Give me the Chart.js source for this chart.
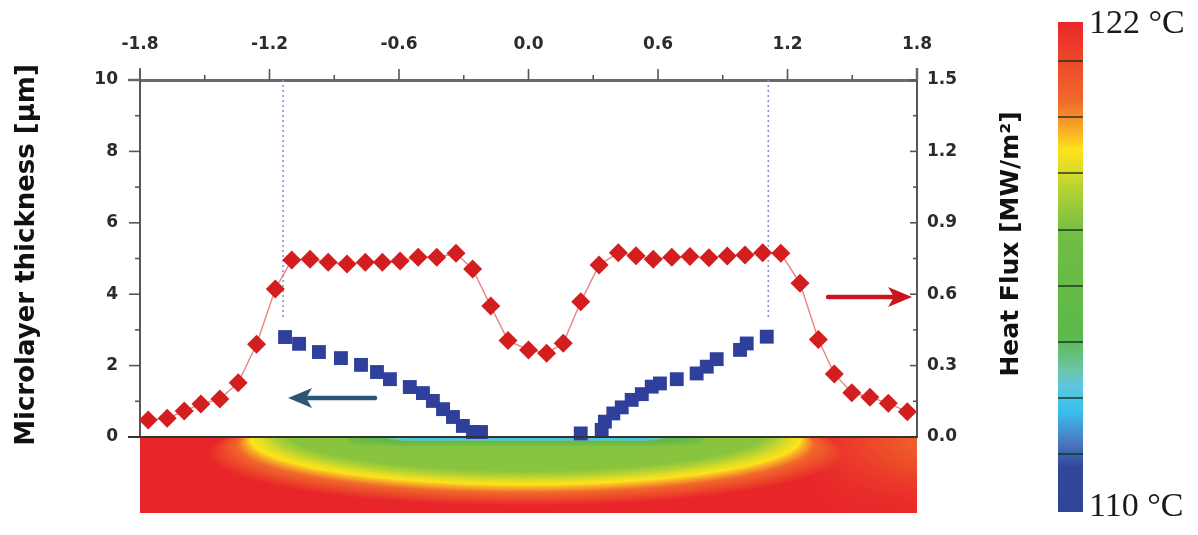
<!DOCTYPE html>
<html><head><meta charset="utf-8">
<script src="https://cdn.jsdelivr.net/npm/chart.js@4/dist/chart.umd.min.js"></script>
<style>html,body{margin:0;padding:0;background:#fff;}canvas{display:block}</style>
</head><body>
<canvas id="c" width="1198" height="535"></canvas>
<script>
// ---------- data ----------
const xTickLabels = ['-1.8','-1.2','-0.6','0.0','0.6','1.2','1.8'];
const leftTickLabels = ['0','2','4','6','8','10'];
const rightTickLabels = ['0.0','0.3','0.6','0.9','1.2','1.5'];

const fluxX = [-1.762,-1.674,-1.595,-1.518,-1.430,-1.345,-1.260,-1.173,-1.097,-1.012,-0.928,-0.841,-0.756,-0.677,-0.595,-0.511,-0.425,-0.336,-0.259,-0.175,-0.095,0.000,0.084,0.161,0.242,0.327,0.416,0.498,0.578,0.664,0.748,0.836,0.921,1.003,1.085,1.169,1.258,1.343,1.417,1.498,1.582,1.667,1.755];
const fluxY = [0.071,0.079,0.109,0.139,0.160,0.228,0.390,0.622,0.744,0.747,0.734,0.727,0.734,0.734,0.740,0.755,0.755,0.772,0.706,0.550,0.405,0.366,0.352,0.394,0.568,0.723,0.774,0.762,0.747,0.755,0.758,0.753,0.761,0.765,0.774,0.772,0.646,0.410,0.265,0.186,0.167,0.142,0.106];

const thickX = [-1.128,-1.063,-0.971,-0.869,-0.776,-0.702,-0.642,-0.550,-0.489,-0.443,-0.396,-0.350,-0.304,-0.257,-0.220,
                0.242,0.339,0.354,0.393,0.432,0.478,0.525,0.571,0.609,0.687,0.779,0.826,0.872,0.980,1.011,1.104];
const thickY = [2.80,2.61,2.38,2.21,2.02,1.82,1.62,1.40,1.23,1.01,0.78,0.56,0.31,0.14,0.14,
                0.10,0.20,0.43,0.66,0.83,1.04,1.20,1.41,1.50,1.62,1.78,1.97,2.18,2.44,2.62,2.81];

const guideX = [-1.137, 1.111];
const guideY = [10, 3.33];

const axisTitles = ['Microlayer thickness [μm]', 'Heat Flux [MW/m²]'];
const colorbarLabels = ['122 °C', '110 °C'];

// ---------- colormap (t: 0 = 110 °C, 1 = 122 °C) ----------
const cmapStops = [[0,'#2e4598'],[0.09,'#30479b'],[0.143,'#4a7ac0'],[0.205,'#38bfee'],[0.26,'#5dc8dc'],[0.29,'#6cc5a6'],[0.36,'#5cb84a'],[0.57,'#72bd44'],[0.66,'#b4d233'],[0.70,'#e0dc26'],[0.74,'#fde31a'],[0.76,'#fbc521'],[0.80,'#f6952a'],[0.84,'#f0682a'],[0.915,'#ed4a2a'],[1,'#e8262a']];
function hex(c){return [parseInt(c.substr(1,2),16),parseInt(c.substr(3,2),16),parseInt(c.substr(5,2),16)];}
const cmapRGB = cmapStops.map(s=>[s[0],hex(s[1])]);
function cmap(t){
  t=Math.max(0,Math.min(1,t));
  for(let i=1;i<cmapRGB.length;i++){
    if(t<=cmapRGB[i][0]){
      const a=cmapRGB[i-1], b=cmapRGB[i]; const f=(t-a[0])/(b[0]-a[0]);
      return [0,1,2].map(k=>Math.round(a[1][k]+(b[1][k]-a[1][k])*f));
    }
  }
  return cmapRGB[cmapRGB.length-1][1];
}
function fieldT(px,v,cx,a,b,right){
  const u=(px-cx)/a, w=v/b;
  const d=Math.sqrt(u*u+w*w)+1e-9;
  const s=Math.abs(w)/d;              // 0 at the surface edges, 1 straight below the centre
  const inW=0.14+0.16*s, outW=0.10+0.35*s, yd=0.98;
  let t;
  if(d<yd-inW) t=0.6;
  else if(d<yd) t=0.6+0.14*(d-(yd-inW))/inW;
  else if(d<yd+outW) t=0.74+0.26*(d-yd)/outW;
  else t=1;
  // thin cool layer at the surface
  const c=Math.exp(-Math.pow(v/4,2))*Math.max(0,Math.min(1,1-(Math.abs(px-cx)-120)/60));
  t=t*(1-c)+0.22*c;
  // orange tint on the right side
  const r=Math.max(0,Math.min(1,(px-(right-110))/110))*Math.exp(-Math.pow(v/45,2));
  if(t>0.86) t=Math.max(0.86,t-0.14*r);
  return t;
}

// ---------- plugin for the extra drawings ----------
const extras = {
  id:'extras',
  beforeDatasetsDraw(chart){
    const {ctx, chartArea:ca, scales} = chart;
    const xs=scales.x;
    const left=Math.round(ca.left), right=Math.round(ca.right);
    const top=Math.round(ca.bottom)+1, h=75, w=right-left;
    const off=document.createElement('canvas'); off.width=w; off.height=h;
    const octx=off.getContext('2d'); const img=octx.createImageData(w,h);
    const cx=xs.getPixelForValue(-0.015)-left;
    const a=xs.getPixelForValue(1.30)-xs.getPixelForValue(0);
    for(let y=0;y<h;y++){for(let x=0;x<w;x++){
      const col=cmap(fieldT(x,y,cx,a,47,w));
      const i=(y*w+x)*4; img.data[i]=col[0];img.data[i+1]=col[1];img.data[i+2]=col[2];img.data[i+3]=255;
    }}
    octx.putImageData(img,0,0);
    ctx.drawImage(off,left,top);
  },
  afterDraw(chart){
    const {ctx, chartArea:ca, scales} = chart;
    const xs=scales.x, yl=scales.y, yr=scales.y2;
    ctx.save();
    // tick marks
    ctx.strokeStyle='#555'; ctx.lineWidth=1.6;
    const line=(x1,y1,x2,y2)=>{ctx.beginPath();ctx.moveTo(x1,y1);ctx.lineTo(x2,y2);ctx.stroke();};
    for(let i=0;i<=12;i++){const v=-1.8+i*0.3; const p=xs.getPixelForValue(v); line(p,ca.top,p,ca.top-(i%2===0?11:5));}
    for(let i=0;i<=10;i++){const p=yl.getPixelForValue(i); line(ca.left,p,ca.left-(i%2===0?11:5),p);}
    for(let i=0;i<=10;i++){const p=yr.getPixelForValue(i*0.15); line(ca.right,p,ca.right-(i%2===0?7:4),p);}
    // axis extensions and bottom frame
    line(ca.left,ca.top-12,ca.left,ca.top);
    ctx.strokeStyle='#333'; ctx.lineWidth=2;
    line(ca.left-12,ca.bottom,ca.right,ca.bottom);
    ctx.strokeStyle='#666'; ctx.lineWidth=2.5;
    line(ca.left-12,ca.top,ca.left,ca.top);
    line(ca.right,ca.top-12,ca.right,ca.top);
    // arrows
    const arrow=(x1,y1,x2,y2,color)=>{
      const dir=Math.sign(x2-x1);
      ctx.strokeStyle=color; ctx.fillStyle=color; ctx.lineWidth=4.5; ctx.lineCap='round';
      line(x1,y1,x2-dir*18,y2);
      ctx.beginPath(); ctx.moveTo(x2,y2); ctx.lineTo(x2-dir*24,y2-10); ctx.lineTo(x2-dir*18,y2); ctx.lineTo(x2-dir*24,y2+10); ctx.closePath(); ctx.fill();
    };
    arrow(xs.getPixelForValue(-0.711),yl.getPixelForValue(1.09),xs.getPixelForValue(-1.114),yl.getPixelForValue(1.09),'#2b5676');
    arrow(xs.getPixelForValue(1.388),yr.getPixelForValue(0.588),xs.getPixelForValue(1.777),yr.getPixelForValue(0.588),'#c8161c');
    // axis titles
    ctx.fillStyle='#111'; ctx.textAlign='center'; ctx.textBaseline='middle';
    ctx.save(); ctx.translate(27,255); ctx.rotate(-Math.PI/2); ctx.font='bold 26px "DejaVu Sans"'; ctx.fillText(axisTitles[0],0,0); ctx.restore();
    ctx.save(); ctx.translate(1011,244); ctx.rotate(-Math.PI/2); ctx.font='bold 25px "DejaVu Sans"'; ctx.fillText(axisTitles[1],0,0); ctx.restore();
    // colorbar
    const bx=1058, bw=25, by=22, bb=512;
    const g=ctx.createLinearGradient(0,bb,0,by);
    cmapStops.forEach(s=>g.addColorStop(s[0],s[1]));
    ctx.fillStyle=g; ctx.fillRect(bx,by,bw,bb-by);
    ctx.strokeStyle='rgba(20,50,30,0.7)'; ctx.lineWidth=2; ctx.lineCap='butt';
    [61,117,173,230,286,342,398,454].forEach(y=>line(bx,y,bx+bw,y));
    ctx.fillStyle='#1a1a1a'; ctx.textAlign='left'; ctx.textBaseline='alphabetic';
    ctx.font='34px "Liberation Serif"';
    ctx.fillText(colorbarLabels[0],1089,33);
    ctx.fillText(colorbarLabels[1],1089,516);
    ctx.restore();
  }
};

const tickFont={family:'"DejaVu Sans"',size:17,weight:'bold'};
const pick=(arr,step,off)=>v=>arr[Math.round((v-off)/step)];

new Chart(document.getElementById('c'),{
  type:'scatter',
  data:{datasets:[
    {label:'Heat flux',yAxisID:'y2',data:fluxX.map((x,i)=>({x,y:fluxY[i]})),showLine:true,
     borderColor:'rgba(225,100,100,0.8)',borderWidth:1.4,pointStyle:'rectRot',pointRadius:9.5,
     pointBackgroundColor:'#d21e1e',pointBorderColor:'#d21e1e',pointBorderWidth:0,clip:false},
    {label:'Microlayer thickness',yAxisID:'y',data:thickX.map((x,i)=>({x,y:thickY[i]})),showLine:false,
     pointStyle:'rect',pointRadius:9.8,pointBackgroundColor:'#2e3f9c',pointBorderColor:'#2e3f9c',pointBorderWidth:0,clip:false},
    {label:'g1',yAxisID:'y',data:guideY.map(y=>({x:guideX[0],y})),showLine:true,pointRadius:0,
     borderColor:'#8595d8',borderWidth:1.6,borderDash:[2,3]},
    {label:'g2',yAxisID:'y',data:guideY.map(y=>({x:guideX[1],y})),showLine:true,pointRadius:0,
     borderColor:'#8595d8',borderWidth:1.6,borderDash:[2,3]}
  ]},
  options:{
    responsive:false,animation:false,devicePixelRatio:1,
    layout:{padding:{left:0,top:0,right:0,bottom:98}},
    plugins:{legend:{display:false},tooltip:{enabled:false}},
    scales:{
      x:{type:'linear',position:'top',min:-1.8,max:1.8,
        ticks:{stepSize:0.6,callback:pick(xTickLabels,0.6,-1.8),font:tickFont,color:'#2b2b2b',padding:25,maxRotation:0},
        grid:{display:false,drawTicks:false},border:{display:true,color:'#6a6a6a',width:3},
        afterFit:s=>{s.height=80;}},
      y:{type:'linear',position:'left',min:0,max:10,
        ticks:{stepSize:2,callback:pick(leftTickLabels,2,0),font:tickFont,color:'#2b2b2b',padding:22},
        grid:{display:false,drawTicks:false},border:{display:true,color:'#555',width:2},
        afterFit:s=>{s.width=140;}},
      y2:{type:'linear',position:'right',min:0,max:1.5,
        ticks:{stepSize:0.3,callback:pick(rightTickLabels,0.3,0),font:tickFont,color:'#2b2b2b',padding:10},
        grid:{display:false,drawTicks:false},border:{display:true,color:'#555',width:2},
        afterFit:s=>{s.width=281;}}
    }
  },
  plugins:[extras]
});
</script>
</body></html>
